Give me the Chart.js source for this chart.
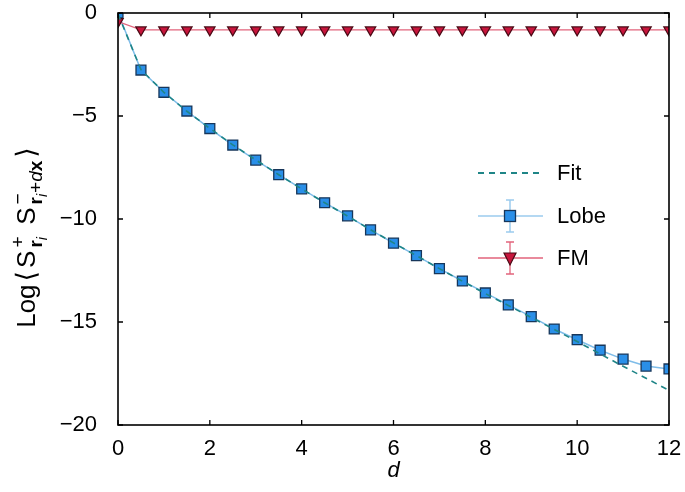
<!DOCTYPE html>
<html>
<head>
<meta charset="utf-8">
<script src="https://cdn.jsdelivr.net/npm/chart.js@4.4.1/dist/chart.umd.min.js"></script>
<style>
html,body{margin:0;padding:0;background:#fff;}
#wrap{width:685px;height:492px;}
</style>
</head>
<body>
<div id="wrap"><canvas id="c" width="685" height="492"></canvas></div>
<script>
// ---- data ----
const dValues = [0,0.5,1,1.5,2,2.5,3,3.5,4,4.5,5,5.5,6,6.5,7,7.5,8,8.5,9,9.5,10,10.5,11,11.5,12];
const lobeValues = [0,-2.77,-3.85,-4.76,-5.61,-6.41,-7.14,-7.85,-8.54,-9.21,-9.85,-10.53,-11.17,-11.78,-12.41,-13.01,-13.59,-14.17,-14.74,-15.34,-15.86,-16.37,-16.8,-17.14,-17.28];
const fmValues = [-0.42,-0.82,-0.82,-0.82,-0.82,-0.82,-0.82,-0.82,-0.82,-0.82,-0.82,-0.82,-0.82,-0.82,-0.82,-0.82,-0.82,-0.82,-0.82,-0.82,-0.82,-0.82,-0.82,-0.82,-0.82];
const fitD = [0,0.5,1,1.5,2,2.5,3,3.5,4,4.5,5,5.5,6,6.5,7,7.5,8,8.5,9,9.5,10,10.5,11,11.5,12];
const fitValues = [-0.05,-2.75,-3.85,-4.77,-5.6,-6.4,-7.13,-7.85,-8.54,-9.21,-9.86,-10.52,-11.16,-11.78,-12.41,-13.02,-13.62,-14.2,-14.78,-15.36,-15.95,-16.55,-17.15,-17.73,-18.32];
const xTicks = [0,2,4,6,8,10,12];
const yTicks = [0,-5,-10,-15,-20];
const seriesNames = ['Fit','Lobe','FM'];

const FONT = '"Liberation Sans", Arial, Helvetica, sans-serif';
const C = {
  fit:'#1f8587', lobeLine:'#7fbde9', lobeFill:'#2a8fe8', lobeEdge:'#17365a',
  fmLine:'#e2647c', fmFill:'#c8153c', fmEdge:'#4a0b16'
};
const pts = (xs, ys) => xs.map((x,i)=>({x:x, y:ys[i]}));
const minus = v => String(v).replace('-', '\u2212');

const framePlugin = {
  id:'frame',
  afterDatasetsDraw(chart){
    const ctx = chart.ctx, a = chart.chartArea;
    const xs = chart.scales.x, ys = chart.scales.y;
    ctx.save();
    ctx.strokeStyle = '#000'; ctx.lineWidth = 1.6;
    ctx.strokeRect(a.left, a.top, a.right-a.left, a.bottom-a.top);
    ctx.lineWidth = 1.3;
    ctx.beginPath();
    xTicks.forEach(t=>{
      const px = xs.getPixelForValue(t);
      ctx.moveTo(px, a.bottom); ctx.lineTo(px, a.bottom-5);
      ctx.moveTo(px, a.top); ctx.lineTo(px, a.top+5);
    });
    yTicks.forEach(t=>{
      const py = ys.getPixelForValue(t);
      ctx.moveTo(a.left, py); ctx.lineTo(a.left+5, py);
      ctx.moveTo(a.right, py); ctx.lineTo(a.right-5, py);
    });
    ctx.stroke();
    ctx.restore();
  },
  afterDraw(chart){
    const ctx = chart.ctx, a = chart.chartArea;
    ctx.save();
    // x title
    ctx.fillStyle = '#000';
    ctx.font = 'italic 22px ' + FONT;
    ctx.textAlign = 'center'; ctx.textBaseline = 'alphabetic';
    ctx.fillText('d', (a.left+a.right)/2, 477);
    // y title (rotated, with sub/superscripts)
    ctx.translate(35, 236);
    ctx.rotate(-Math.PI/2);
    ctx.textAlign = 'left';
    const big = '26px ' + FONT, sup = '19px ' + FONT, subB = 'bold 19px ' + FONT,
          subI = 'italic 19px ' + FONT, ssI = 'italic 14px ' + FONT;
    const br = '27px "DejaVu Sans", ' + FONT;
    const groups = [
      [{t:'Log', f:big, dy:0}],
      [{t:'\u27E8', f:br, dy:0}],
      [{t:'S', f:big, dy:0}],
      [{t:'+', f:sup, dy:-11}, {t:'r', f:subB, dy:7, tail:{t:'i', f:ssI, dy:12}}],
      [{t:' ', f:sup, dy:0}],
      [{t:'S', f:big, dy:0}],
      [{t:'\u2212', f:sup, dy:-11}, {t:'r', f:subB, dy:7, tail:{t:'i', f:ssI, dy:12},
         tail2:[{t:'+', f:sup, dy:7},{t:'d', f:subI, dy:7},{t:'x', f:subB, dy:7}]}],
      [{t:'\u27E9', f:br, dy:0}]
    ];
    const partW = p => {
      ctx.font = p.f; let w = ctx.measureText(p.t).width;
      if (p.tail){ ctx.font = p.tail.f; w += ctx.measureText(p.tail.t).width + 1; }
      if (p.tail2){ p.tail2.forEach(q=>{ ctx.font = q.f; w += ctx.measureText(q.t).width; }); }
      return w;
    };
    const gap = 3;
    const gw = g => Math.max(...g.map(partW)) + gap;
    const total = groups.reduce((s,g)=>s+gw(g),0);
    let x = -total/2;
    groups.forEach(g=>{
      g.forEach(p=>{
        let xx = x;
        ctx.font = p.f; ctx.fillText(p.t, xx, p.dy); xx += ctx.measureText(p.t).width;
        if (p.tail){ ctx.font = p.tail.f; ctx.fillText(p.tail.t, xx, p.tail.dy); xx += ctx.measureText(p.tail.t).width + 1; }
        if (p.tail2){ p.tail2.forEach(q=>{ ctx.font = q.f; ctx.fillText(q.t, xx, q.dy); xx += ctx.measureText(q.t).width; }); }
      });
      x += gw(g);
    });
    ctx.restore();

    // legend
    ctx.save();
    const lx0 = 478, lx1 = 543, cx = 510, tx = 557;
    const rows = [173, 216, 258];
    ctx.font = '22px ' + FONT; ctx.fillStyle = '#000'; ctx.textBaseline = 'middle'; ctx.textAlign = 'left';
    // Fit
    ctx.strokeStyle = C.fit; ctx.lineWidth = 1.8; ctx.setLineDash([6,5]);
    ctx.beginPath(); ctx.moveTo(lx0, rows[0]); ctx.lineTo(lx1, rows[0]); ctx.stroke();
    ctx.setLineDash([]);
    ctx.fillText(seriesNames[0], tx, rows[0]+1);
    // Lobe
    ctx.strokeStyle = '#9ccbee'; ctx.lineWidth = 1.5;
    ctx.beginPath();
    ctx.moveTo(lx0, rows[1]); ctx.lineTo(lx1, rows[1]);
    ctx.moveTo(cx, rows[1]-16); ctx.lineTo(cx, rows[1]+16);
    ctx.moveTo(cx-4, rows[1]-16); ctx.lineTo(cx+4, rows[1]-16);
    ctx.moveTo(cx-4, rows[1]+16); ctx.lineTo(cx+4, rows[1]+16);
    ctx.stroke();
    ctx.fillStyle = C.lobeFill; ctx.strokeStyle = C.lobeEdge; ctx.lineWidth = 1.3;
    ctx.fillRect(cx-5.5, rows[1]-5.5, 11, 11); ctx.strokeRect(cx-5.5, rows[1]-5.5, 11, 11);
    ctx.fillStyle = '#000'; ctx.fillText(seriesNames[1], tx, rows[1]+1);
    // FM
    ctx.strokeStyle = C.fmLine; ctx.lineWidth = 1.3;
    ctx.beginPath();
    ctx.moveTo(lx0, rows[2]); ctx.lineTo(lx1, rows[2]);
    ctx.moveTo(cx, rows[2]-16); ctx.lineTo(cx, rows[2]+16);
    ctx.moveTo(cx-4, rows[2]-16); ctx.lineTo(cx+4, rows[2]-16);
    ctx.moveTo(cx-4, rows[2]+16); ctx.lineTo(cx+4, rows[2]+16);
    ctx.stroke();
    ctx.fillStyle = C.fmFill; ctx.strokeStyle = C.fmEdge; ctx.lineWidth = 1.2;
    ctx.beginPath(); ctx.moveTo(cx-6, rows[2]-5); ctx.lineTo(cx+6, rows[2]-5); ctx.lineTo(cx, rows[2]+7); ctx.closePath();
    ctx.fill(); ctx.stroke();
    ctx.fillStyle = '#000'; ctx.fillText(seriesNames[2], tx, rows[2]+1);
    ctx.restore();
  }
};

new Chart(document.getElementById('c'), {
  type:'scatter',
  data:{ datasets:[
    { label:seriesNames[0], data:pts(fitD, fitValues), showLine:true, borderColor:C.fit, borderWidth:1.6,
      borderDash:[6,5], pointRadius:0, order:0, clip:0 },
    { label:seriesNames[2], data:pts(dValues, fmValues), showLine:true, borderColor:C.fmLine, borderWidth:1.2,
      pointStyle:'triangle', rotation:180, pointRadius:6, backgroundColor:C.fmFill, pointBorderColor:C.fmEdge,
      pointBorderWidth:1.2, order:1, clip:0 },
    { label:seriesNames[1], data:pts(dValues, lobeValues), showLine:true, borderColor:C.lobeLine, borderWidth:1.5,
      pointStyle:'rect', pointRadius:7, backgroundColor:C.lobeFill, pointBorderColor:C.lobeEdge,
      pointBorderWidth:1.3, order:2, clip:0 }
  ]},
  options:{
    responsive:false, animation:false, devicePixelRatio:1,
    layout:{ padding:{ top:13, right:16, left:0, bottom:0 } },
    plugins:{ legend:{display:false}, tooltip:{enabled:false} },
    scales:{
      x:{ type:'linear', min:0, max:12,
          afterBuildTicks(s){ s.ticks = xTicks.map(v=>({value:v})); },
          afterFit(s){ s.height = 67; s.paddingLeft = 0; s.paddingRight = 0; },
          grid:{display:false}, border:{display:false},
          ticks:{ font:{size:22, family:FONT}, color:'#000', padding:3, maxRotation:0,
                  callback:v=>minus(v) } },
      y:{ type:'linear', min:-20, max:0,
          afterBuildTicks(s){ s.ticks = yTicks.map(v=>({value:v})); },
          afterFit(s){ s.width = 118; s.paddingTop = 0; s.paddingBottom = 0; },
          grid:{display:false}, border:{display:false},
          ticks:{ font:{size:22, family:FONT}, color:'#000', padding:13,
                  callback:v=>minus(v) } }
    }
  },
  plugins:[framePlugin]
});
</script>
</body>
</html>
